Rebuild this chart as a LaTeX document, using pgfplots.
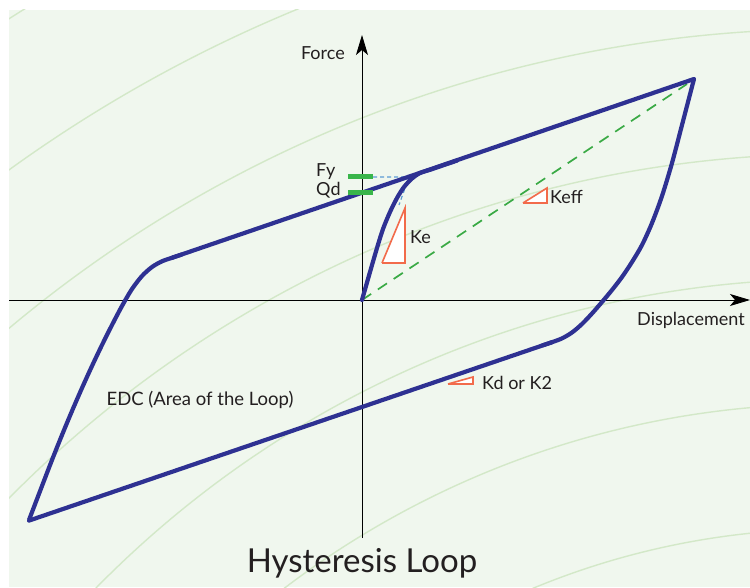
\documentclass[border=0pt]{standalone}
\usepackage{pgfplots}
\pgfplotsset{compat=1.18}
\usepackage{fontspec}
\setmainfont{Lato}
\usetikzlibrary{arrows.meta}
\definecolor{bgc}{HTML}{F0F7EE}
\definecolor{arcc}{HTML}{D3E8C8}
\definecolor{loopc}{HTML}{2E3192}
\definecolor{keffc}{HTML}{3AAA45}
\definecolor{barc}{HTML}{39B54A}
\definecolor{trc}{HTML}{F26B4B}
\definecolor{fyc}{HTML}{5B9BD5}
\definecolor{txt}{HTML}{231F20}
\begin{document}
\begin{tikzpicture}
\begin{axis}[
  x=1pt, y=1pt, scale only axis,
  xmin=-362, xmax=388, ymin=-287, ymax=300,
  hide axis,
  clip=true,
]
% background
\fill[white] (axis cs:-362,-287) rectangle (axis cs:388,300);
\fill[bgc] (axis cs:-353,-287) rectangle (axis cs:388,290);
\begin{scope}
\clip (axis cs:-353,-287) rectangle (axis cs:388,290);
\draw[arcc, line width=1.4pt] (axis cs:470,-1010) circle [radius=781];
\draw[arcc, line width=1.4pt] (axis cs:470,-1010) circle [radius=906];
\draw[arcc, line width=1.4pt] (axis cs:470,-1010) circle [radius=1031];
\draw[arcc, line width=1.4pt] (axis cs:470,-1010) circle [radius=1156];
\draw[arcc, line width=1.4pt] (axis cs:470,-1010) circle [radius=1281];
\draw[arcc, line width=1.4pt] (axis cs:470,-1010) circle [radius=1406];
\draw[arcc, line width=1.4pt] (axis cs:470,-1010) circle [radius=1531];
\end{scope}
% axes
\draw[black, line width=0.9pt, -{Stealth[length=20pt,width=12pt,inset=5pt]}] (axis cs:-353,0) -- (axis cs:388,0);
\draw[black, line width=0.9pt, -{Stealth[length=20pt,width=12pt,inset=5pt]}] (axis cs:0,-238) -- (axis cs:0,265);
% Keff dashed line
\addplot[keffc, line width=1.7pt, dash pattern=on 11pt off 8pt] coordinates {(0,0) (325,216)};
% Fy dashed guides
\addplot[fyc, line width=1.2pt, dash pattern=on 4pt off 3pt] coordinates {(11,123) (47,123) (37,95)};
% loop: upper straight branch
\addplot[loopc, line width=4.2pt, line join=round, line cap=round] coordinates {(332,221) (-190,42.2)};
% left knee and unloading
\addplot[loopc, line width=4.2pt, smooth, line join=round] coordinates {
 (-180,45.6) (-190,42.2) (-200,38.7) (-210,33) (-220,24) (-230,11) (-240,-6) (-250,-25) (-260,-45) (-270,-66) (-280,-88) (-290,-111) (-300,-135) (-310,-160) (-320,-186) (-333,-220)};
% lower straight branch
\addplot[loopc, line width=4.2pt, line join=round, line cap=round] coordinates {(-333,-220.6) (190,-42.2)};
% right knee and reloading
\addplot[loopc, line width=4.2pt, smooth, line join=round] coordinates {
 (180,-45.6) (190,-42.2) (200,-38.4) (210,-32.5) (220,-24) (230,-13.5) (240,-2) (250,10) (260,23) (270,38) (280,55) (290,77) (300,104) (310,137) (320,175) (332,221)};
% initial loading curve
\addplot[loopc, line width=4.2pt, smooth, line cap=round] coordinates {
 (0,0) (8,28) (15,52) (21,71) (28,88) (35,102) (42,113) (50,121.5) (58,127) (68,130.2) (80,134.3) (95,139.4)};
% Fy and Qd bars
\addplot[barc, line width=5pt] coordinates {(-14,123) (11,123)};
\addplot[barc, line width=5pt] coordinates {(-14,107) (11,107)};
% stiffness triangles
\addplot[trc, line width=1.6pt, fill=white] coordinates {(20,37) (43,37) (43,92) (20,37)};
\addplot[trc, line width=1.6pt, fill=white] coordinates {(161,97) (185,97) (185,112) (161,97)};
\addplot[trc, line width=1.6pt, fill=white] coordinates {(86,-84) (111,-84) (111,-77) (86,-84)};
% labels
\node[txt, font=\fontsize{18}{20}\selectfont, anchor=east, inner sep=0pt] at (axis cs:-17,247) {Force};
\node[txt, font=\fontsize{18}{20}\selectfont] at (axis cs:329,-20) {Displacement};
\node[txt, font=\fontsize{18}{20}\selectfont, anchor=west, inner sep=0pt] at (axis cs:-46,128) {Fy};
\node[txt, font=\fontsize{18}{20}\selectfont, anchor=west, inner sep=0pt] at (axis cs:-46,110) {Qd};
\node[txt, font=\fontsize{18}{20}\selectfont, anchor=west, inner sep=0pt] at (axis cs:48,63) {Ke};
\node[txt, font=\fontsize{18}{20}\selectfont, anchor=west, inner sep=0pt] at (axis cs:188,103) {Keff};
\node[txt, font=\fontsize{18}{20}\selectfont, anchor=west, inner sep=0pt] at (axis cs:120,-83) {Kd or K2};
\node[txt, font=\fontsize{18.5}{20}\selectfont] at (axis cs:-162,-100) {EDC (Area of the Loop)};
\node[txt, font=\fontsize{33}{36}\selectfont] at (axis cs:0,-263) {Hysteresis Loop};
\end{axis}
\pgfresetboundingbox
\path[use as bounding box] (0,0) rectangle (750pt,587pt);
\end{tikzpicture}
\end{document}
